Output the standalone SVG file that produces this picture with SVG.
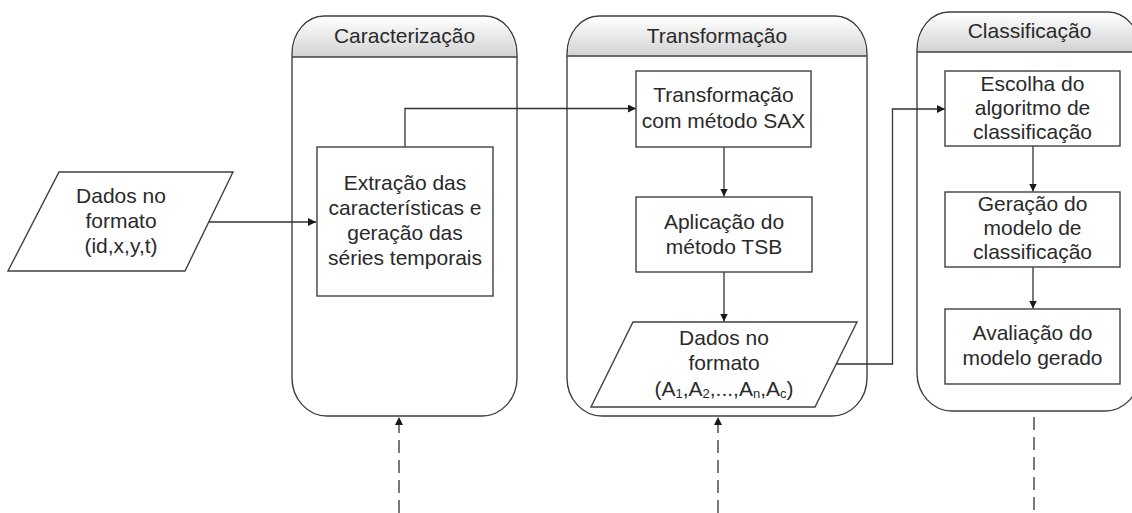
<svg xmlns="http://www.w3.org/2000/svg" width="1132" height="513" viewBox="0 0 1132 513">
<defs>
<linearGradient id="hdr" x1="0" y1="0" x2="0" y2="1">
<stop offset="0" stop-color="#ffffff"/>
<stop offset="1" stop-color="#d2d2d2"/>
</linearGradient>
<marker id="arr" viewBox="0 0 10 10" refX="10" refY="5" markerWidth="8" markerHeight="8" markerUnits="userSpaceOnUse" orient="auto">
<path d="M0,0 L10,5 L0,10 Z" fill="#1a1a1a"/>
</marker>
</defs>
<style>
.lane{fill:#ffffff;stroke:#404040;stroke-width:1.4}
.hdr{fill:url(#hdr);stroke:none}
.ln{fill:none;stroke:#404040;stroke-width:1.4}
.box{fill:#ffffff;stroke:#404040;stroke-width:1.4}
.t{font-family:"Liberation Sans",Arial,sans-serif;font-size:21px;fill:#2a2a2a;text-anchor:middle}
.c{fill:none;stroke:#333333;stroke-width:1.3}
.d{fill:none;stroke:#333333;stroke-width:1.3;stroke-dasharray:13 7}
</style>
<rect width="1132" height="513" fill="#ffffff"/>

<g id="lane-caracterizacao">
<path class="lane" d="M292,54 A32,38 0 0 1 324,16 L485,16 A32,38 0 0 1 517,54 L517,378 A35,38 0 0 1 482,416 L327,416 A35,38 0 0 1 292,378 Z"/>
<path class="hdr" d="M293,57 L293,54 A31,37 0 0 1 324,17 L485,17 A31,37 0 0 1 516,54 L516,57 Z"/>
<path class="ln" d="M292,57 L517,57"/>
<text class="t" x="404.5" y="43">Caracterização</text>
</g>

<g id="lane-transformacao">
<path class="lane" d="M567,54 A32,38 0 0 1 599,16 L835,16 A32,38 0 0 1 867,54 L867,378 A35,38 0 0 1 832,416 L602,416 A35,38 0 0 1 567,378 Z"/>
<path class="hdr" d="M568,56 L568,54 A31,37 0 0 1 599,17 L835,17 A31,37 0 0 1 866,54 L866,56 Z"/>
<path class="ln" d="M567,56 L867,56"/>
<text class="t" x="717" y="43">Transformação</text>
</g>

<g id="lane-classificacao">
<path class="lane" d="M917,50 A32,38 0 0 1 949,12 L1108,12 A32,38 0 0 1 1140,50 L1140,373 A35,38 0 0 1 1105,411 L952,411 A35,38 0 0 1 917,373 Z"/>
<path class="hdr" d="M918,52 L918,50 A31,37 0 0 1 949,13 L1108,13 A31,37 0 0 1 1139,50 L1139,52 Z"/>
<path class="ln" d="M917,52 L1140,52"/>
<text class="t" x="1029.5" y="38">Classificação</text>
</g>

<g id="connectors">
<path class="c" d="M209,222 L316,222" marker-end="url(#arr)"/>
<path class="c" d="M405,147 L405,108.5 L636,108.5" marker-end="url(#arr)"/>
<path class="c" d="M724,147 L724,196.5" marker-end="url(#arr)"/>
<path class="c" d="M724,272 L724,321.5" marker-end="url(#arr)"/>
<path class="c" d="M836,364 L892.5,364 L892.5,109 L945,109" marker-end="url(#arr)"/>
<path class="c" d="M1033,146 L1033,191.5" marker-end="url(#arr)"/>
<path class="c" d="M1033,267 L1033,308.5" marker-end="url(#arr)"/>
<path class="d" d="M399,513 L399,417" marker-end="url(#arr)"/>
<path class="d" d="M718,513 L718,417" marker-end="url(#arr)"/>
<path class="d" d="M1034,417 L1034,513"/>
</g>

<g id="dados-entrada">
<polygon class="box" points="59,172 233,172 185,271 8,271"/>
<text class="t" x="121" y="203">Dados no</text>
<text class="t" x="121" y="228">formato</text>
<text class="t" x="121" y="253">(id,x,y,t)</text>
</g>

<g id="extracao">
<rect class="box" x="317" y="147" width="176" height="149"/>
<text class="t" x="405" y="190">Extração das</text>
<text class="t" x="405" y="215">características e</text>
<text class="t" x="405" y="240">geração das</text>
<text class="t" x="405" y="265">séries temporais</text>
</g>

<g id="sax">
<rect class="box" x="636" y="71" width="175" height="76"/>
<text class="t" x="723.5" y="102">Transformação</text>
<text class="t" x="723.5" y="128">com método SAX</text>
</g>

<g id="tsb">
<rect class="box" x="636" y="197" width="176" height="75"/>
<text class="t" x="724" y="229">Aplicação do</text>
<text class="t" x="724" y="254">método TSB</text>
</g>

<g id="dados-saida">
<polygon class="box" points="633,322 857,322 815,407 591,407"/>
<text class="t" x="724" y="345">Dados no</text>
<text class="t" x="724" y="370">formato</text>
<text class="t" x="724" y="396">(A<tspan font-size="13" dy="2">1</tspan><tspan dy="-2">,A</tspan><tspan font-size="13" dy="2">2</tspan><tspan dy="-2">,...,A</tspan><tspan font-size="13" dy="2">n</tspan><tspan dy="-2">,A</tspan><tspan font-size="13" dy="2">c</tspan><tspan dy="-2">)</tspan></text>
</g>

<g id="escolha">
<rect class="box" x="945" y="71" width="175" height="75"/>
<text class="t" x="1032.5" y="91">Escolha do</text>
<text class="t" x="1032.5" y="115">algoritmo de</text>
<text class="t" x="1032.5" y="139">classificação</text>
</g>

<g id="geracao">
<rect class="box" x="945" y="192" width="175" height="75"/>
<text class="t" x="1032.5" y="211">Geração do</text>
<text class="t" x="1032.5" y="235">modelo de</text>
<text class="t" x="1032.5" y="259">classificação</text>
</g>

<g id="avaliacao">
<rect class="box" x="945" y="309" width="175" height="75"/>
<text class="t" x="1032.5" y="340">Avaliação do</text>
<text class="t" x="1032.5" y="365">modelo gerado</text>
</g>
</svg>
